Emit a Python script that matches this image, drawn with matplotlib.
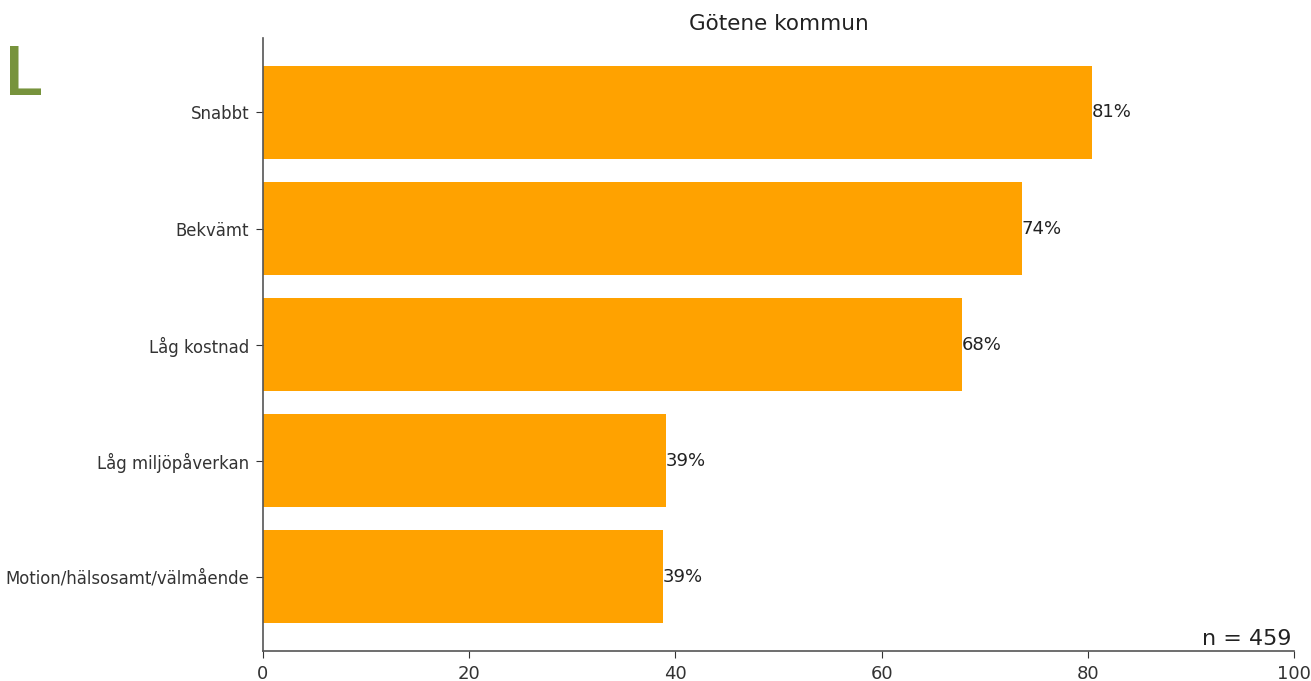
import matplotlib
matplotlib.use("Agg")
import matplotlib.pyplot as plt

# Data
kategorier = ["Motion/hälsosamt/välmående", "Låg miljöpåverkan", "Låg kostnad", "Bekvämt", "Snabbt"]
andel = [38.8, 39.1, 67.8, 73.6, 80.4]
etiketter = ["39%", "39%", "68%", "74%", "81%"]
antal = 459

fig = plt.figure(figsize=(13.11, 6.81), dpi=100)
ax = fig.add_axes([0.2006, 0.044, 0.7864, 0.900])

bars = ax.barh(kategorier, andel, color="#ffa200", height=0.8)
ax.bar_label(bars, labels=etiketter, fontsize=13, color="#222222", padding=0)

ax.set_xlim(0, 100)
ax.set_title("Götene kommun", fontsize=15.5, color="#222222")
ax.tick_params(axis="y", labelsize=11.9, length=5, pad=5, colors="#333333")
ax.tick_params(axis="x", labelsize=13, length=5, pad=5, colors="#333333")
ax.spines["top"].set_visible(False)
ax.spines["right"].set_visible(False)
for s in ["left", "bottom"]:
    ax.spines[s].set_color("#555555")
    ax.spines[s].set_linewidth(1.2)

ax.text(0.998, 0.003, f"n = {antal}", transform=ax.transAxes,
        ha="right", va="bottom", fontsize=16, color="#222222")

# green "L" from the slide in the corner
fig.text(0.0035, 0.8605, "L", color="#77933c", fontsize=50, fontweight="medium",
         family="Roboto", va="baseline")

fig.savefig("out.png", dpi=100)
